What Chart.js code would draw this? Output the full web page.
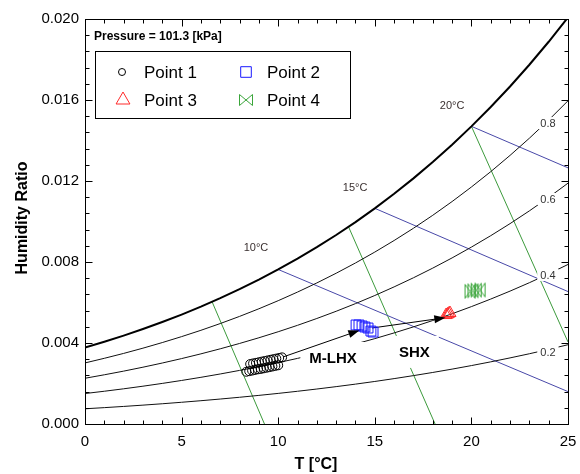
<!DOCTYPE html>
<html><head><meta charset="utf-8">
<script src="https://cdn.jsdelivr.net/npm/chart.js@4/dist/chart.umd.min.js"></script>
<style>html,body{margin:0;padding:0;background:#fff}canvas{display:block}</style>
</head><body>
<canvas id="c" width="580" height="474"></canvas>
<script>
// ---------- data ----------
const tempC = [0,1,2,3,4,5,6,7,8,9,10,11,12,13,14,15,16,17,18,19,20,21,22,23,24,25];
const wSat  = [0.003774,0.004060,0.004364,0.004688,0.005034,0.005403,0.005795,0.006213,0.006657,0.007129,0.007631,0.008165,0.008731,0.009333,0.009972,0.010649,0.011368,0.012130,0.012937,0.013792,0.014698,0.015655,0.016669,0.017741,0.018876,0.020080];
const wRh80 = [0.003016,0.003244,0.003486,0.003745,0.004021,0.004315,0.004627,0.004960,0.005314,0.005690,0.006090,0.006515,0.006966,0.007445,0.007952,0.008490,0.009061,0.009666,0.010307,0.010985,0.011703,0.012461,0.013264,0.014112,0.015010,0.015961];
const wRh60 = [0.002259,0.002430,0.002611,0.002805,0.003011,0.003230,0.003464,0.003713,0.003977,0.004258,0.004556,0.004873,0.005210,0.005567,0.005945,0.006346,0.006771,0.007221,0.007698,0.008202,0.008736,0.009299,0.009895,0.010524,0.011190,0.011894];
const wRh40 = [0.001504,0.001618,0.001738,0.001867,0.002004,0.002150,0.002305,0.002470,0.002646,0.002832,0.003030,0.003240,0.003463,0.003700,0.003951,0.004216,0.004498,0.004796,0.005111,0.005444,0.005797,0.006169,0.006562,0.006977,0.007415,0.007879];
const wRh20 = [0.000751,0.000808,0.000868,0.000932,0.001000,0.001073,0.001150,0.001233,0.001320,0.001413,0.001511,0.001616,0.001727,0.001845,0.001969,0.002101,0.002241,0.002389,0.002545,0.002710,0.002885,0.003069,0.003264,0.003469,0.003686,0.003915];
const rhLabels = ['0.8','0.6','0.4','0.2'];

// wet-bulb lines (blue): start on saturation, end at right edge
const wbLabels = ['10°C','15°C','20°C'];
const wbT = [[10,25],[15,25],[20,25]];
const wbW = [[0.00763,0.00160],[0.01065,0.00654],[0.01470,0.01265]];

// specific volume lines (green)
const volT = [[6.58,9.29],[13.64,18.12],[20.00,25.00]];
const volW = [[0.00603,0.0],[0.00974,0.0],[0.01470,0.00405]];

// measured points
const p1T = [8.35,8.50,8.65,8.80,8.95,9.10,9.25,9.40,9.55,9.70,9.85,10.00,8.55,8.70,8.85,9.00,9.15,9.30,9.45,9.60,9.75,9.90,10.05,10.20];
const p1W = [0.00258,0.00261,0.00264,0.00267,0.00270,0.00272,0.00275,0.00278,0.00281,0.00284,0.00287,0.00290,0.00296,0.00299,0.00302,0.00305,0.00308,0.00311,0.00314,0.00317,0.00320,0.00323,0.00326,0.00329];
const p2T = [14.03,14.18,14.34,14.49,14.65,14.80,14.91];
const p2W = [0.00489,0.00489,0.00484,0.00479,0.00474,0.00459,0.00454];
const p3T = [18.69,18.76,18.83,18.89];
const p3W = [0.00538,0.00541,0.00545,0.00548];
const p4T = [19.93,20.08,20.25,20.45];
const p4W = [0.00655,0.00658,0.00661,0.00662];
const seriesNames = ['Point 1','Point 2','Point 3','Point 4'];

// process arrows
const arrowT = [[10.25,14.20],[14.86,18.65]];
const arrowW = [[0.00331,0.00462],[0.00474,0.00525]];
const processLabels = ['M-LHX','SHX'];

const pressureText = 'Pressure = 101.3 [kPa]';
const xTitle = 'T [°C]';
const yTitle = 'Humidity Ratio';

// ---------- helpers ----------
const FONT = '"Liberation Sans", Arial, Helvetica, sans-serif';
const pts = (xs, ys) => xs.map((x,i)=>({x:x, y:ys[i]}));
const GREEN = '#3c9a3c', BLUE = '#4848a8', RED = '#ff2a2a', SQB = '#1a1aff', BOWG = '#3aa53a';

function makeBowtie(w,h,color){
  const c=document.createElement('canvas'); c.width=w+2; c.height=h+2;
  const g=c.getContext('2d'); g.strokeStyle=color; g.lineWidth=1;
  g.beginPath(); g.moveTo(1.5,1.5); g.lineTo(1.5,h+0.5); g.lineTo(w+0.5,1.5); g.lineTo(w+0.5,h+0.5); g.closePath(); g.stroke();
  return c;
}
const bowPlot = makeBowtie(11,15,BOWG);
const bowLegend = makeBowtie(14,12,BOWG);

const lineDs = (data,color,width)=>({type:'line',data:data,borderColor:color,borderWidth:width,pointRadius:0,fill:false,order:3,tension:0});

const datasets = [];
datasets.push(lineDs(pts(tempC,wSat),'#000',2));
[wRh80,wRh60,wRh40,wRh20].forEach(a=>datasets.push(lineDs(pts(tempC,a),'#111',1)));
wbT.forEach((t,i)=>datasets.push(lineDs(pts(t,wbW[i]),BLUE,1)));
volT.forEach((t,i)=>datasets.push(lineDs(pts(t,volW[i]),GREEN,1)));
arrowT.forEach((t,i)=>{const d=lineDs(pts(t,arrowW[i]),'#000',1); d.order=2; d.arrowHead=true; datasets.push(d);});
datasets.push({type:'scatter',data:pts(p1T,p1W),pointStyle:'circle',pointRadius:4.5,borderColor:'#000',backgroundColor:'rgba(0,0,0,0)',borderWidth:1,order:1});
datasets.push({type:'scatter',data:pts(p2T,p2W),pointStyle:'rect',pointRadius:7,borderColor:SQB,backgroundColor:'rgba(0,0,0,0)',borderWidth:1,order:1});
datasets.push({type:'scatter',data:pts(p3T,p3W),pointStyle:'triangle',pointRadius:7,borderColor:RED,backgroundColor:'rgba(0,0,0,0)',borderWidth:1,order:1});
datasets.push({type:'scatter',data:pts(p4T,p4W),pointStyle:bowPlot,pointRadius:7,borderColor:BOWG,backgroundColor:'rgba(0,0,0,0)',borderWidth:1,order:1});

// ---------- annotation text (positions in data coords) ----------
const boxedTexts = [
  {text:processLabels[0], x:12.84, y:0.00326, font:'bold 15px '+FONT, padX:9, padY:16, color:'#000'},
  {text:processLabels[1], x:17.05, y:0.00356, font:'bold 15px '+FONT, padX:9, padY:16, color:'#000'},
  {text:rhLabels[0], x:23.96, y:0.01486, font:'11px '+FONT, padX:3, padY:6, color:'#333'},
  {text:rhLabels[1], x:23.96, y:0.01111, font:'11px '+FONT, padX:3, padY:6, color:'#333'},
  {text:rhLabels[2], x:23.96, y:0.00736, font:'11px '+FONT, padX:3, padY:6, color:'#333'},
  {text:rhLabels[3], x:23.96, y:0.00356, font:'11px '+FONT, padX:3, padY:6, color:'#333'},
  {text:wbLabels[0], x:8.85, y:0.00874, font:'11px '+FONT, padX:0, padY:0, color:'#3a3030'},
  {text:wbLabels[1], x:13.98, y:0.01170, font:'11px '+FONT, padX:0, padY:0, color:'#3a3030'},
  {text:wbLabels[2], x:19.00, y:0.01575, font:'11px '+FONT, padX:0, padY:0, color:'#3a3030'}
];

let boxesDone = false;
const annot = {
  id:'annot',
  beforeDatasetsDraw(){ boxesDone=false; },
  beforeDatasetDraw(chart,args){
    const ds = chart.data.datasets[args.index];
    if (boxesDone || ds.order===3) return;
    boxesDone = true;
    const {ctx,scales:{x,y},chartArea:a} = chart;
    ctx.save();
    ctx.beginPath(); ctx.rect(a.left,a.top,a.right-a.left,a.bottom-a.top); ctx.clip();
    boxedTexts.forEach(b=>{
      const px=x.getPixelForValue(b.x), py=y.getPixelForValue(b.y);
      ctx.font=b.font; const w=ctx.measureText(b.text).width;
      if (b.padX||b.padY){ ctx.fillStyle='#fff'; ctx.fillRect(px-w/2-b.padX, py-b.padY, w+2*b.padX, 2*b.padY); }
      ctx.fillStyle=b.color; ctx.textAlign='center'; ctx.textBaseline='middle';
      ctx.fillText(b.text,px,py+1);
    });
    ctx.restore();
  },
  afterDatasetsDraw(chart){
    const {ctx,scales:{x,y},chartArea:a} = chart;
    chart.data.datasets.forEach((ds,i)=>{
      if(!ds.arrowHead) return;
      const m = chart.getDatasetMeta(i).data;
      const p0=m[m.length-2], p1=m[m.length-1];
      const ang=Math.atan2(p1.y-p0.y,p1.x-p0.x), L=11, W=4;
      ctx.save(); ctx.fillStyle='#000'; ctx.beginPath();
      ctx.moveTo(p1.x,p1.y);
      ctx.lineTo(p1.x-L*Math.cos(ang)+W*Math.sin(ang), p1.y-L*Math.sin(ang)-W*Math.cos(ang));
      ctx.lineTo(p1.x-L*Math.cos(ang)-W*Math.sin(ang), p1.y-L*Math.sin(ang)+W*Math.cos(ang));
      ctx.closePath(); ctx.fill(); ctx.restore();
    });
    ctx.save(); ctx.strokeStyle='#000'; ctx.lineWidth=1;
    const L=Math.round(a.left)+0.5, R=Math.round(a.right)+0.5, T=Math.round(a.top)+0.5, B=Math.round(a.bottom)+0.5;
    ctx.strokeRect(L,T,R-L,B-T);
    ctx.beginPath();
    for(let k=0;k<=25;k++){
      const px=Math.round(x.getPixelForValue(k))+0.5, len=(k%5===0)?7:4;
      ctx.moveTo(px,B); ctx.lineTo(px,B-len); ctx.moveTo(px,T); ctx.lineTo(px,T+len);
    }
    for(let k=0;k<=25;k++){
      const py=Math.round(y.getPixelForValue(k*0.0008))+0.5, len=(k%5===0)?7:4;
      ctx.moveTo(L,py); ctx.lineTo(L+len,py); ctx.moveTo(R,py); ctx.lineTo(R-len,py);
    }
    ctx.stroke();
    ctx.fillStyle='#000'; ctx.font='bold 12px '+FONT; ctx.textAlign='left'; ctx.textBaseline='alphabetic';
    ctx.fillText(pressureText,94,40);
    ctx.strokeRect(95.5,51.5,255,67);
    ctx.font='17px '+FONT; ctx.textBaseline='middle';
    const ent=[
      {lx:122,ly:72,tx:144,st:'circle',r:3.5,c:'#000'},
      {lx:246,ly:72,tx:267,st:'rect',r:7.5,c:SQB},
      {lx:123,ly:100,tx:144,st:'triangle',r:8,c:RED},
      {lx:246,ly:100,tx:267,st:bowLegend,r:7,c:BOWG}
    ];
    ent.forEach((e,i)=>{
      ctx.strokeStyle=e.c; ctx.fillStyle='rgba(0,0,0,0)'; ctx.lineWidth=1;
      Chart.helpers.drawPoint(ctx,{pointStyle:e.st,radius:e.r,borderWidth:1,rotation:0},e.lx,e.ly);
      ctx.fillStyle='#000'; ctx.fillText(seriesNames[i],e.tx,e.ly+1);
    });
    ctx.font='bold 16px '+FONT; ctx.textAlign='center'; ctx.textBaseline='middle';
    ctx.fillText(xTitle,316,465);
    ctx.translate(23,218); ctx.rotate(-Math.PI/2); ctx.fillText(yTitle,0,0);
    ctx.restore();
  }
};

new Chart(document.getElementById('c'),{
  type:'scatter',
  data:{datasets:datasets},
  options:{
    responsive:false, animation:false, devicePixelRatio:1,
    layout:{padding:{left:0,right:12,top:19,bottom:0}},
    plugins:{legend:{display:false},tooltip:{enabled:false}},
    scales:{
      x:{type:'linear',min:0,max:25,
         ticks:{stepSize:5,font:{family:FONT,size:15},color:'#000',padding:9,maxRotation:0},
         grid:{display:false,drawTicks:false},border:{display:false},
         afterFit(s){s.height=50; s.paddingLeft=0; s.paddingRight=0;}},
      y:{type:'linear',min:0,max:0.02,
         ticks:{stepSize:0.004,callback:v=>v.toFixed(3),font:{family:FONT,size:15},color:'#000',padding:6},
         grid:{display:false,drawTicks:false},border:{display:false},
         afterFit(s){s.width=85; s.paddingTop=0; s.paddingBottom=0;}}
    }
  },
  plugins:[annot]
});
</script>
</body></html>
